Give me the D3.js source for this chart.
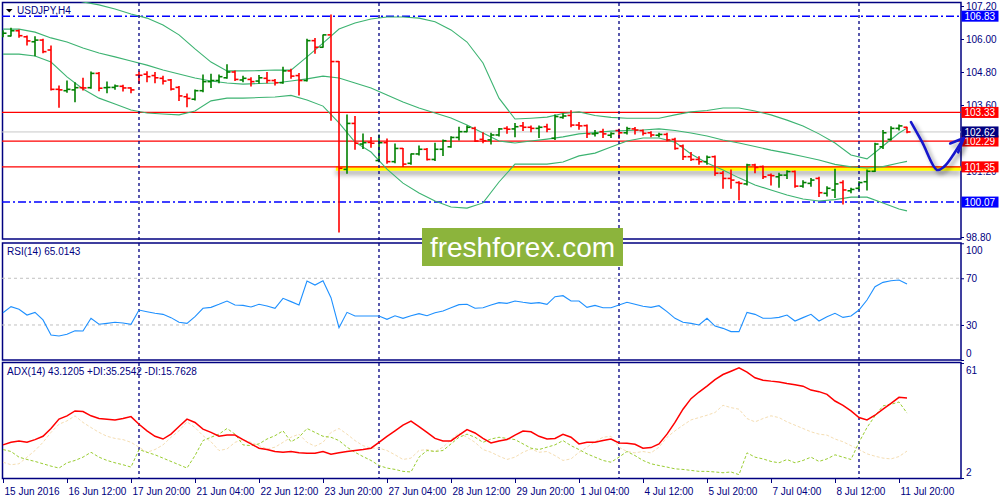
<!DOCTYPE html>
<html><head><meta charset="utf-8">
<script src="https://cdn.jsdelivr.net/npm/d3@7"></script>
<style>
body{margin:0;background:#fff}
svg{display:block}
text{font-family:"Liberation Sans",Arial,sans-serif}
</style>
</head><body>
<svg id="c" width="1000" height="500"></svg>
<script>
// ---------------- DATA ----------------
const symbolTitle = "USDJPY,H4";
const rsiTitle = "RSI(14) 65.0143";
const adxTitle = "ADX(14) 43.1205 +DI:35.2542 -DI:15.7628";

const opens = [106.11,106.11,106.30,106.08,105.90,105.96,105.60,104.17,104.12,104.15,
104.23,104.23,104.75,104.23,104.24,104.28,104.22,104.69,104.72,104.67,
104.57,104.51,104.24,103.90,103.81,104.12,104.45,104.49,104.59,104.80,
104.51,104.53,104.47,104.57,104.49,104.41,104.84,104.67,104.49,105.94,
105.70,106.15,105.18,101.26,102.93,102.18,102.24,101.58,102.23,101.54,
102.02,101.48,101.82,101.99,101.62,101.99,102.08,102.42,102.63,102.75,
102.35,102.33,102.51,102.75,102.73,102.84,102.79,102.75,102.81,102.39,
103.15,103.22,102.87,102.85,102.55,102.63,102.50,102.67,102.59,102.73,
102.67,102.59,102.50,102.53,102.35,102.11,101.72,101.62,101.54,101.72,
101.12,100.93,100.78,100.73,101.42,101.36,101.05,100.99,101.05,101.18,
100.65,100.75,100.93,100.39,100.51,100.78,100.48,100.57,100.81,101.19,
102.08,102.35,102.75,102.79];
const highs = [106.30,106.39,106.33,106.11,106.08,105.99,105.75,104.29,104.47,104.41,
104.57,104.80,104.78,104.44,104.33,104.32,104.23,104.81,104.81,104.78,
104.65,104.53,104.27,104.00,104.15,104.69,104.72,104.69,105.06,104.84,
104.65,104.59,104.67,104.78,104.53,104.97,104.90,104.75,105.99,106.02,
106.15,106.87,105.18,103.24,103.18,102.55,102.42,102.51,102.36,102.18,
102.02,101.82,102.11,102.02,102.21,102.33,102.45,102.79,102.84,102.79,
102.59,102.57,102.75,102.81,102.93,102.96,102.84,102.84,102.90,103.24,
103.27,103.39,102.96,102.87,102.67,102.72,102.59,102.72,102.79,102.78,
102.69,102.63,102.57,102.57,102.39,102.15,101.87,101.72,101.75,101.75,
101.18,101.24,100.81,101.45,101.45,101.38,101.09,101.12,101.21,101.20,
100.85,100.93,100.97,100.63,101.26,100.85,100.57,100.81,101.24,102.21,
102.67,102.81,102.87,102.79];
const lows = [106.08,106.11,106.06,105.78,105.39,105.50,104.15,103.52,104.06,103.72,
104.15,104.21,104.12,104.05,104.17,104.11,104.05,104.39,104.45,104.41,
104.36,104.15,103.76,103.54,103.78,104.08,104.24,104.41,104.57,104.49,
104.45,104.29,104.39,104.41,104.33,104.39,104.57,103.96,104.47,105.48,
105.70,103.05,98.98,101.12,101.99,102.02,102.06,101.54,101.48,101.50,
101.36,101.45,101.78,101.60,101.58,101.76,102.06,102.33,102.63,102.27,
102.23,102.18,102.47,102.57,102.45,102.67,102.63,102.42,102.63,102.35,
103.12,102.81,102.72,102.42,102.47,102.42,102.42,102.39,102.55,102.55,
102.51,102.45,102.45,102.30,101.99,101.62,101.58,101.45,101.45,101.05,
100.57,100.57,100.15,100.69,101.14,100.93,100.69,100.61,100.93,100.61,
100.61,100.65,100.27,100.29,100.24,100.00,100.41,100.51,100.51,101.18,
102.02,102.33,102.69,102.59];
const closes = [106.21,106.30,106.12,105.93,105.96,105.54,104.17,104.15,104.17,104.23,
104.22,104.75,104.21,104.24,104.29,104.22,104.15,104.68,104.63,104.59,
104.47,104.18,103.93,103.84,104.12,104.45,104.49,104.63,104.80,104.53,
104.57,104.45,104.59,104.49,104.41,104.84,104.65,104.49,105.94,105.70,
106.15,105.18,101.30,102.93,102.21,102.23,102.21,102.23,101.54,102.02,
101.45,101.82,101.99,101.62,101.99,102.30,102.42,102.63,102.79,102.29,
102.30,102.51,102.73,102.72,102.81,102.79,102.75,102.79,102.72,103.18,
103.20,102.87,102.84,102.55,102.57,102.55,102.56,102.59,102.74,102.69,
102.57,102.51,102.53,102.33,102.02,101.72,101.62,101.54,101.70,101.12,
100.93,100.87,100.75,101.42,101.33,100.99,101.03,101.05,101.18,100.65,
100.78,100.87,100.41,100.57,100.73,100.51,100.53,100.78,101.19,102.18,
102.59,102.75,102.84,102.62];

// Bollinger bands read every 2nd bar (bar index list)
const bandIdx = [0,2,4,6,8,10,12,14,16,18,20,22,24,26,28,30,32,34,36,38,40,42,44,46,48,50,52,54,56,58,
60,62,64,66,68,70,72,74,76,78,80,82,84,86,88,90,92,94,96,98,100,102,104,106,108,110,112,113];
const bbUpper = [107.71,107.66,107.61,107.56,107.46,107.35,107.24,107.09,106.91,106.76,106.51,106.15,105.64,105.16,104.84,104.84,104.85,104.87,104.87,105.35,
105.85,106.36,106.58,106.73,106.80,106.80,106.76,106.63,106.33,105.89,105.13,103.85,103.09,103.12,103.16,103.29,103.35,103.22,103.15,103.12,
103.12,103.12,103.24,103.35,103.40,103.49,103.49,103.38,103.24,103.05,102.84,102.55,102.22,101.78,101.64,102.11,102.58,102.76];
const bbMiddle = [106.36,106.36,106.25,106.04,105.89,105.67,105.49,105.35,105.20,105.05,104.87,104.73,104.58,104.47,104.40,104.36,104.38,104.40,104.47,104.55,
104.65,104.58,104.40,104.22,103.96,103.71,103.49,103.31,103.13,102.87,102.58,102.29,102.22,102.29,102.36,102.44,102.55,102.60,102.65,102.67,
102.69,102.73,102.67,102.58,102.47,102.33,102.22,102.09,101.96,101.85,101.73,101.60,101.44,101.35,101.31,101.36,101.49,101.55];
const bbLower = [105.45,105.45,105.38,105.16,104.62,104.18,103.85,103.64,103.42,103.31,103.27,103.24,103.38,103.75,103.85,103.85,103.87,103.89,103.95,103.78,
103.56,102.95,102.25,101.89,101.27,100.76,100.40,100.11,99.89,99.85,100.04,100.80,101.45,101.45,101.45,101.53,101.75,101.85,102.07,102.29,
102.40,102.40,102.25,101.82,101.49,101.24,100.95,100.69,100.51,100.33,100.18,100.11,100.16,100.25,100.25,100.04,99.82,99.75];

const rsi = [40.5,45.7,43.4,38.5,40.8,34.3,21.4,20.6,22.0,25.1,
24.8,35.7,30.6,31.4,32.3,31.7,30.6,42.8,41.4,40.0,
39.1,36.3,32.3,31.4,37.1,44.3,45.1,47.7,50.5,47.1,
46.8,45.4,47.7,46.3,44.3,52.8,50.0,47.1,67.7,64.2,
67.9,53.4,27.7,40.8,37.7,37.7,37.7,37.7,34.8,37.9,
35.7,37.9,39.7,37.9,40.5,42.0,44.8,47.4,47.7,44.3,
44.8,47.1,49.1,48.5,50.5,49.4,48.5,49.1,47.7,54.2,
55.1,50.5,50.5,45.1,46.8,44.8,44.8,47.1,49.4,47.7,
46.0,45.1,46.5,41.4,35.7,32.3,31.4,30.0,35.7,29.1,
27.1,24.3,24.3,40.8,39.1,35.7,35.7,36.5,38.5,33.4,
36.3,39.1,33.4,37.1,40.0,36.5,37.7,42.8,51.4,62.8,
66.5,67.9,68.5,65.0];
const adx = [19.0,20.3,21.0,20.3,21.7,23.4,27.4,32.2,33.9,36.4,
36.1,33.9,32.5,32.2,31.8,32.5,33.5,29.6,26.2,23.4,
22.0,24.5,28.4,32.2,30.5,27.1,25.4,23.4,24.0,24.0,
21.7,19.5,17.3,16.6,15.6,15.2,15.6,14.9,14.7,14.7,
15.6,14.2,14.9,15.6,16.1,16.6,17.3,20.3,23.4,26.2,
29.1,31.2,28.4,25.4,22.3,21.0,21.0,24.0,26.8,25.1,
22.3,20.0,21.0,21.7,24.0,26.1,25.7,23.4,22.0,22.3,
24.4,22.9,19.5,20.3,20.3,21.2,22.0,20.0,19.8,19.3,
17.3,17.6,19.5,24.5,30.5,37.3,42.7,46.1,49.1,52.5,
55.1,56.8,58.5,56.3,53.4,52.2,51.7,51.3,50.5,49.8,
49.1,47.1,46.3,44.9,41.5,39.3,36.4,33.0,31.8,34.2,
37.3,40.3,43.4,43.1];
const plusDI = [16.6,15.6,12.7,11.5,10.5,9.3,8.1,7.1,9.8,11.0,
12.7,15.2,12.7,11.0,9.8,8.8,7.6,16.6,15.2,13.9,
12.2,10.5,8.8,7.1,13.5,21.2,22.9,24.5,27.4,24.5,
19.0,18.6,19.5,22.0,23.7,26.2,20.6,22.9,27.4,25.4,
23.4,22.9,21.2,17.8,15.2,13.0,11.0,8.4,7.1,6.4,
5.4,5.1,12.7,16.1,15.6,16.1,19.5,22.9,24.5,22.9,
20.3,22.0,22.9,22.3,21.7,19.5,17.3,16.6,17.8,19.0,
21.2,18.6,16.6,14.4,12.7,11.0,10.1,12.7,15.6,13.5,
11.0,9.3,8.4,7.6,6.7,6.4,5.9,5.4,5.4,5.1,
4.7,5.1,3.7,14.9,12.7,11.8,10.5,9.8,11.5,9.8,
11.0,12.7,10.5,11.8,13.9,12.7,11.5,20.3,27.9,33.9,
39.0,39.8,41.0,35.3];
const minusDI = [10.1,8.8,9.3,12.7,16.1,20.3,25.4,29.6,31.3,33.9,
30.5,27.9,25.4,23.4,22.3,21.7,20.3,17.8,15.2,16.6,
19.0,22.9,26.2,30.8,27.9,23.7,20.6,16.1,16.9,20.3,
21.7,20.3,18.6,16.9,17.8,20.3,22.9,24.5,20.3,18.3,
20.3,25.4,27.4,24.5,21.2,18.6,17.3,17.3,16.1,13.9,
11.5,12.2,16.1,16.6,15.6,17.8,21.7,25.1,22.9,20.3,
16.6,15.2,13.2,11.5,12.7,15.2,16.9,15.2,15.6,13.5,
11.0,11.8,15.2,17.8,20.6,22.9,23.4,17.8,15.6,14.9,
15.6,14.9,17.8,22.9,26.2,29.1,31.8,33.0,34.2,35.6,
39.3,38.1,37.3,32.5,30.8,32.5,33.9,33.0,30.8,29.1,
27.4,25.7,24.5,24.0,22.0,20.6,18.6,16.6,14.4,13.2,
12.2,11.8,13.0,15.8];

const timeLabels = ["15 Jun 2016","16 Jun 12:00","17 Jun 20:00","21 Jun 04:00","22 Jun 12:00",
"23 Jun 20:00","27 Jun 04:00","28 Jun 12:00","29 Jun 20:00","1 Jul 04:00","4 Jul 12:00",
"5 Jul 20:00","7 Jul 04:00","8 Jul 12:00","11 Jul 20:00"];
const timeLabelIdx = [0,8,16,24,32,40,48,56,64,72,80,88,96,104,112];
const weekStartIdx = [17,47,77,107];

const priceTicks = [107.2,106.0,104.8,103.6,101.2,98.8];
const rsiLevels = [70,30];
const rsiTicks = [100,70,30,0];
const adxTicks = [61,2];

const blueLevels = [106.83,100.07];
const redLevels = [103.33,102.29,101.35];
const bidPrice = 102.62;
const yellowLevel = 101.29, yellowStartIdx = 41.6;
const arrowPath = [[113.5,102.98],[114.9,102.25],[116.75,101.24],[117.6,101.35],[118.6,101.71],[120.1,102.40]];
const arrowHead = [[118.4,102.20],[120.1,102.40],[119.4,101.88]];
const watermark = "freshforex.com";

// ---------------- DRAW ----------------
const navy = "#000080";
const svg = d3.select("#c");
const defs = svg.append("defs");
defs.append("clipPath").attr("id","clipMain").append("rect").attr("x",2).attr("y",2).attr("width",959).attr("height",237);
defs.append("clipPath").attr("id","clipRsi").append("rect").attr("x",2).attr("y",243).attr("width",959).attr("height",117);
defs.append("clipPath").attr("id","clipAdx").append("rect").attr("x",2).attr("y",363).attr("width",959).attr("height",115);
const f1 = defs.append("filter").attr("id","shadow").attr("filterUnits","userSpaceOnUse")
  .attr("x",0).attr("y",140).attr("width",1000).attr("height",60);
f1.append("feDropShadow").attr("dx",0).attr("dy",4).attr("stdDeviation",2.5).attr("flood-color","#000").attr("flood-opacity",0.35);
const f2 = defs.append("filter").attr("id","shadow2").attr("filterUnits","userSpaceOnUse")
  .attr("x",880).attr("y",100).attr("width",120).attr("height",100);
f2.append("feDropShadow").attr("dx",3).attr("dy",3).attr("stdDeviation",2).attr("flood-color","#000").attr("flood-opacity",0.4);

const x = d3.scaleLinear().domain([0,113]).range([3,907]);
const yP = d3.scaleLinear().domain([98.8,107.2]).range([237,6]);
const yR = d3.scaleLinear().domain([0,100]).range([360,243.25]);
const yA = d3.scaleLinear().domain([2,61]).range([478,363]);
const X0 = 2, X1 = 961;

// panel borders
[[2,239],[242.5,360],[362,478.5]].forEach(([t,b])=>{
  svg.append("rect").attr("x",2.5).attr("y",t+0.5).attr("width",X1-2.5).attr("height",b-t-0.5)
    .attr("fill","none").attr("stroke",navy).attr("stroke-width",1.5);
});

// ---- main panel
const gm = svg.append("g").attr("clip-path","url(#clipMain)");
const sep = svg.append("g");
weekStartIdx.forEach(i=>{
  sep.append("line").attr("x1",x(i)).attr("x2",x(i)).attr("y1",3).attr("y2",478)
    .attr("stroke",navy).attr("stroke-width",1.3).attr("stroke-dasharray","3,3");
});

// horizontal levels
gm.append("line").attr("x1",X0).attr("x2",X1).attr("y1",yP(bidPrice)).attr("y2",yP(bidPrice)).attr("stroke","#c8c8c8").attr("stroke-width",1);
blueLevels.forEach(v=>gm.append("line").attr("x1",X0).attr("x2",X1).attr("y1",yP(v)).attr("y2",yP(v))
  .attr("stroke","#0000ff").attr("stroke-width",1.5).attr("stroke-dasharray","8,3,2,3"));
gm.append("line").attr("x1",x(yellowStartIdx)).attr("x2",X1).attr("y1",yP(yellowLevel)).attr("y2",yP(yellowLevel))
  .attr("stroke","#ffff00").attr("stroke-width",4.5).attr("filter","url(#shadow)");
redLevels.forEach(v=>gm.append("line").attr("x1",X0).attr("x2",X1).attr("y1",yP(v)).attr("y2",yP(v))
  .attr("stroke","#ff0000").attr("stroke-width",1.2));

// bands
const bandLine = arr => d3.line().x((d,i)=>x(bandIdx[i])).y(d=>yP(d))(arr);
[bbUpper,bbMiddle,bbLower].forEach(arr=>gm.append("path").attr("d",bandLine(arr))
  .attr("fill","none").attr("stroke","#3cb371").attr("stroke-width",1.1));

// OHLC bars
const bars = gm.append("g");
opens.forEach((o,i)=>{
  const c = closes[i], col = c >= o ? "#008000" : "#ff0000";
  const cx = x(i);
  const g = bars.append("g").attr("stroke",col).attr("stroke-width",1.6);
  g.append("line").attr("x1",cx).attr("x2",cx).attr("y1",yP(highs[i])-0.5).attr("y2",yP(lows[i])+0.5);
  g.append("line").attr("x1",cx-3.5).attr("x2",cx).attr("y1",yP(o)).attr("y2",yP(o));
  g.append("line").attr("x1",cx).attr("x2",cx+3.5).attr("y1",yP(c)).attr("y2",yP(c));
});

// title
svg.append("path").attr("d","M6,9 L12.5,9 L9.25,12.5 Z").attr("fill","#000");
svg.append("text").attr("x",17).attr("y",14).attr("font-size",10).attr("fill",navy).text(symbolTitle);

// ---- RSI panel
const gr = svg.append("g").attr("clip-path","url(#clipRsi)");
rsiLevels.forEach(v=>gr.append("line").attr("x1",X0).attr("x2",X1).attr("y1",yR(v)).attr("y2",yR(v))
  .attr("stroke","#c0c0c0").attr("stroke-width",1).attr("stroke-dasharray","3,3"));
gr.append("path").attr("d",d3.line().x((d,i)=>x(i)).y(d=>yR(d))(rsi))
  .attr("fill","none").attr("stroke","#1e90ff").attr("stroke-width",1.1);
svg.append("text").attr("x",7).attr("y",254.5).attr("font-size",10).attr("fill",navy).text(rsiTitle);

// ---- ADX panel
const ga = svg.append("g").attr("clip-path","url(#clipAdx)");
ga.append("path").attr("d",d3.line().x((d,i)=>x(i)).y(d=>yA(d))(minusDI))
  .attr("fill","none").attr("stroke","#f5deb3").attr("stroke-width",1).attr("stroke-dasharray","3,2");
ga.append("path").attr("d",d3.line().x((d,i)=>x(i)).y(d=>yA(d))(plusDI))
  .attr("fill","none").attr("stroke","#9acd32").attr("stroke-width",1).attr("stroke-dasharray","3,2");
ga.append("path").attr("d",d3.line().x((d,i)=>x(i)).y(d=>yA(d))(adx))
  .attr("fill","none").attr("stroke","#ff0000").attr("stroke-width",1.5);
svg.append("text").attr("x",7).attr("y",375).attr("font-size",10).attr("fill",navy).text(adxTitle);

// ---- axes
function styleAxis(g){
  g.select(".domain").remove();
  g.selectAll(".tick line").attr("stroke",navy);
  g.selectAll(".tick text").attr("fill",navy).attr("font-size",10).attr("font-family","Liberation Sans, Arial, sans-serif");
}
const ax = svg.append("g").attr("transform",`translate(${X1},0)`)
  .call(d3.axisRight(yP).tickValues(priceTicks).tickFormat(d3.format(".2f")).tickSize(3).tickPadding(2));
styleAxis(ax);

const axR = svg.append("g").attr("transform",`translate(${X1},0)`)
  .call(d3.axisRight(yR).tickValues(rsiTicks).tickSize(3).tickPadding(2));
styleAxis(axR);
axR.selectAll(".tick").filter(d=>d===100).select("text").attr("y",7);
axR.selectAll(".tick").filter(d=>d===0).select("text").attr("y",-6.5);

const axA = svg.append("g").attr("transform",`translate(${X1},0)`)
  .call(d3.axisRight(yA).tickValues(adxTicks).tickSize(3).tickPadding(2));
styleAxis(axA);
axA.selectAll(".tick").filter(d=>d===61).select("text").attr("y",7.5);
axA.selectAll(".tick").filter(d=>d===2).select("text").attr("y",-6);

const axX = svg.append("g").attr("transform","translate(0,478)")
  .call(d3.axisBottom(x).tickValues(timeLabelIdx).tickFormat((d,i)=>timeLabels[i]).tickSize(5).tickPadding(5));
styleAxis(axX);
axX.selectAll(".tick text").attr("text-anchor","start").attr("x",1);

// price tags
function tag(v, fill){
  const yy = yP(v);
  svg.append("rect").attr("x",X1+0.5).attr("y",yy-5.5).attr("width",37).attr("height",11).attr("fill",fill);
  svg.append("text").attr("x",X1+3.5).attr("y",yy+3.8).attr("font-size",10).attr("fill","#fff").text(d3.format(".2f")(v));
}
blueLevels.forEach(v=>tag(v,"#0000ff"));
redLevels.forEach(v=>tag(v,"#ff0000"));
tag(bidPrice, navy);

// hand drawn arrow
const la = d3.line().x(d=>x(d[0])).y(d=>yP(d[1])).curve(d3.curveCatmullRom);
const ar = svg.append("g").attr("filter","url(#shadow2)");
ar.append("path").attr("d",la(arrowPath)).attr("fill","none").attr("stroke","#1818cc").attr("stroke-width",2.6).attr("stroke-linecap","round");
ar.append("path").attr("d",d3.line().x(d=>x(d[0])).y(d=>yP(d[1]))(arrowHead)).attr("fill","none")
  .attr("stroke","#1818cc").attr("stroke-width",2.6).attr("stroke-linecap","round").attr("stroke-linejoin","round");

// watermark
svg.append("rect").attr("x",422).attr("y",228).attr("width",201).attr("height",38).attr("fill","#8cb43c");
svg.append("text").attr("x",522.5).attr("y",257).attr("text-anchor","middle").attr("font-size",28)
  .attr("font-family","Open Sans, Liberation Sans, Arial, sans-serif").attr("fill","#fff").text(watermark);
</script>
</body></html>
